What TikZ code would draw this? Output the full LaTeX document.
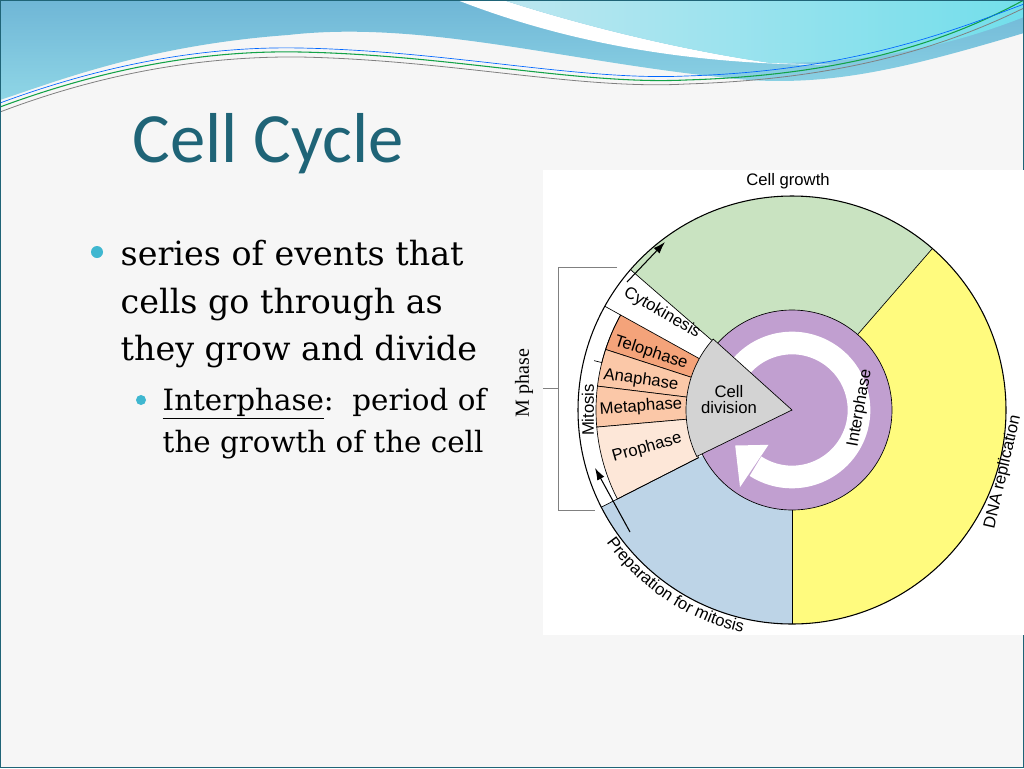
\documentclass[tikz,border=0pt]{standalone}
\usepackage{fontspec}
\setmainfont{DejaVu Serif}
\newfontfamily\titlefont{Carlito}
\newfontfamily\labelfont{Liberation Sans}
\newfontfamily\serifsmall{Liberation Serif}
\usetikzlibrary{arrows.meta,decorations.text}
\definecolor{slidebg}{HTML}{F6F6F6}
\definecolor{teal}{HTML}{1F6477}
\definecolor{bullet}{HTML}{3FB7D0}
\definecolor{wavedark}{HTML}{6FB6D6}
\definecolor{wavelight}{HTML}{8FD6E6}
\definecolor{growth}{HTML}{C9E3C1}
\definecolor{dnarep}{HTML}{FFFB7E}
\definecolor{prep}{HTML}{BDD4E7}
\definecolor{interph}{HTML}{C19FD0}
\definecolor{celldiv}{HTML}{D3D3D3}
\definecolor{telo}{HTML}{F4A37A}
\definecolor{ana}{HTML}{FBC8A8}
\definecolor{pro}{HTML}{FDE7D8}
\tikzset{
  bodytext/.style={anchor=base west, font=\fontsize{25}{30}\selectfont, text=black},
  subtext/.style={anchor=base west, font=\fontsize{22}{26}\selectfont, text=black},
  phase/.style={font=\labelfont\fontsize{12.5}{14}\selectfont},
  edge/.style={draw=black, line width=0.5pt}
}
\begin{document}
\begin{tikzpicture}[x=0.75pt, y=-0.75pt]
\fill[slidebg] (0,0) rectangle (1024,768);
\useasboundingbox (0,0) rectangle (1024,768);
% top waves
\shade[top color=wavedark, bottom color=wavelight]
  (0,0) -- (1024,0) -- (1024,33) .. controls (900,70) and (820,90) .. (719,77)
  .. controls (560,60) and (420,20) .. (288,35) .. controls (150,45) and (60,80) .. (0,100) -- cycle;
\fill[white] (457,0) .. controls (560,40) and (680,65) .. (837,65) -- (771,63)
  .. controls (680,50) and (580,25) .. (503,0) -- cycle;
\shade[left color=wavelight!60!white, right color=wavelight!80!cyan]
  (503,0) -- (1024,0) -- (1024,17) .. controls (940,50) and (860,63) .. (771,63)
  .. controls (680,50) and (580,25) .. (503,0) -- cycle;
\draw[teal!60!green, line width=0.8pt] (0,107) .. controls (100,70) and (200,50) .. (300,52)
  .. controls (450,55) and (580,85) .. (686,80) .. controls (850,75) and (950,40) .. (1024,0);
\draw[blue!60!cyan, line width=0.5pt] (0,103) .. controls (100,66) and (200,46) .. (300,48)
  .. controls (450,51) and (580,81) .. (686,76) .. controls (850,71) and (950,32) .. (1024,4);
\draw[gray, line width=0.6pt] (0,112) .. controls (100,74) and (200,56) .. (300,57)
  .. controls (450,60) and (580,90) .. (686,84) .. controls (850,79) and (950,44) .. (1024,8);
\draw[teal, line width=1pt] (0.5,0.5) rectangle (1023.5,767.5);
% title and bullets
\node (title) [anchor=base west, text=teal, font=\titlefont\fontsize{53}{60}\selectfont] at (128,162) {Cell Cycle};
\fill[bullet] (97,252) circle (6);
\node (l1) [bodytext] at (116,265) {series of events that};
\node (l2) [bodytext] at (116,313) {cells go through as};
\node (l3) [bodytext] at (116,360) {they grow and divide};
\fill[bullet] (141,400) circle (5);
\node (s1) [subtext] at (158,410) {\underline{Interphase}:\ \ period of};
\node (s2) [subtext] at (158,452) {the growth of the cell};
% diagram
\fill[white] (543,170) rectangle (1024,635);
\begin{scope}[shift={(792,410)}, y=0.75pt]
  \fill[dnarep] (0,0) -- (-90:214) arc[start angle=-90, end angle=49, radius=214] -- cycle;
  \fill[growth] (0,0) -- (49:214) arc[start angle=49, end angle=139, radius=214] -- cycle;
  \fill[prep] (0,0) -- (207:214) arc[start angle=207, end angle=270, radius=214] -- cycle;
  \foreach \a/\b/\c in {151/162/telo, 162/173/ana, 173/185/ana, 185/207/pro}
    \filldraw[fill=\c, edge] (\a:105) -- (\a:196) arc[start angle=\a, end angle=\b, radius=196] -- (\b:105) -- cycle;
  \draw[edge] (0,0) -- (-90:214);
  \draw[edge] (0,0) -- (49:214);
  \draw[edge] (139:105) -- (139:214);
  \draw[edge] (207:105) -- (207:214);
  \draw[edge] (151:196) -- (151:214);
  \draw[edge] (151:196) arc[start angle=151, end angle=166, radius=196] -- (166:204);
  % interphase ring
  \fill[interph] (0,0) circle (100);
  \draw[edge] (0,0) circle (100);
  \draw[white, line width=17pt] (150:67) arc[start angle=150, end angle=-123, radius=67];
  \fill[white] (236:42) -- (236:93) -- (212:67) -- cycle;
  \filldraw[fill=celldiv, edge] (0,0) -- (138:106) arc[start angle=138, end angle=206, radius=106] -- cycle;
  \draw[edge, line width=0.8pt] (0,0) circle (214);
  \path[decorate, decoration={text along path, text align=center,
      text={|\labelfont\fontsize{12.5}{14}\selectfont|Preparation for mitosis}}]
    (205:228) arc[start angle=205, end angle=268, radius=228];
\end{scope}
\draw[-{Latex[length=9pt,width=6pt]}, line width=0.8pt] (630,532) -- (595,468);
\draw[-{Latex[length=9pt,width=6pt]}, line width=0.8pt] (627,282) -- (665,242);
% M phase bracket
\draw[gray, line width=0.6pt] (617,267) -- (558,267) -- (558,510) -- (595,510);
\draw[gray, line width=0.6pt] (543,388) -- (558,388);
\node (mph) [rotate=90, font=\serifsmall\fontsize{15}{17}\selectfont] at (524,383) {M phase};
% labels
\node (growthlbl) [phase] at (788,181) {Cell growth};
\node (dnalbl) [phase, rotate=77] at (1003,472) {DNA replication};
\node (cyto) [phase, rotate=-30] at (662,313) {Cytokinesis};
\node (telolbl) [phase, rotate=-18] at (651,353) {Telophase};
\node (analbl) [phase, rotate=-8] at (641,380) {Anaphase};
\node (metalbl) [phase, rotate=4] at (641,407) {Metaphase};
\node (prolbl) [phase, rotate=16] at (647,448) {Prophase};
\node (mitlbl) [phase, rotate=90] at (588,410) {Mitosis};
\node (divlbl) [phase, align=center] at (729,400) {Cell\\[-2pt]division};
\node (interlbl) [phase, rotate=80] at (860,408) {Interphase};
\end{tikzpicture}
\end{document}
